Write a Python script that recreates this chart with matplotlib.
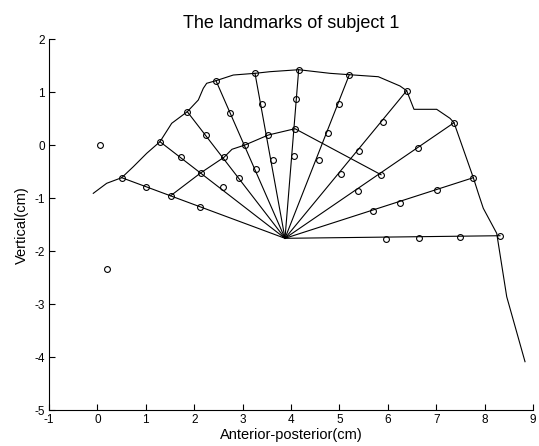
import matplotlib
matplotlib.use("Agg")
import matplotlib.pyplot as plt
import numpy as np

plt.rcParams['font.family'] = ['Liberation Sans', 'DejaVu Sans']
plt.rcParams['axes.unicode_minus'] = False

# Centre of the radial grid
center = (3.876, -1.755)

# Landmarks along each ray, outermost first (x, y in cm)
ray_x = [
    [0.502, 1.004, 1.514, 2.120],
    [1.293, 1.721, 2.140, 2.589],
    [1.857, 2.238, 2.616, 2.932],
    [2.450, 2.740, 3.050, 3.277],
    [3.256, 3.395, 3.519, 3.622],
    [4.159, 4.110, 4.083, 4.056],
    [5.205, 4.986, 4.758, 4.572],
    [6.390, 5.895, 5.405, 5.039],
    [7.368, 6.618, 5.860, 5.390],
    [7.767, 7.017, 6.258, 5.688],
    [8.318, 7.492, 6.645, 5.969],
]
ray_y = [
    [-0.611, -0.781, -0.951, -1.158],
    [0.068, -0.215, -0.517, -0.781],
    [0.634, 0.200, -0.226, -0.611],
    [1.219, 0.615, 0.011, -0.442],
    [1.358, 0.785, 0.200, -0.283],
    [1.426, 0.868, 0.313, -0.208],
    [1.332, 0.785, 0.232, -0.277],
    [1.030, 0.445, -0.102, -0.536],
    [0.426, -0.045, -0.555, -0.857],
    [-0.611, -0.838, -1.083, -1.245],
    [-1.706, -1.725, -1.745, -1.764],
]

# Isolated reference points
extra_x = [0.054, 0.205]
extra_y = [0.011, -2.328]

# Outer contour
contour_x = [-0.085, 0.192, 0.502, 0.742, 1.019, 1.293, 1.535, 1.857, 2.085,
             2.188, 2.258, 2.450, 2.808, 3.256, 3.566, 4.159, 4.806, 5.205,
             5.804, 6.252, 6.390, 6.541, 7.010, 7.285, 7.368, 7.767, 7.870,
             7.973, 8.250, 8.457, 8.835]
contour_y = [-0.906, -0.717, -0.611, -0.404, -0.151, 0.068, 0.415, 0.634, 0.855,
             1.075, 1.170, 1.219, 1.326, 1.358, 1.389, 1.426, 1.358, 1.332,
             1.294, 1.119, 1.030, 0.679, 0.679, 0.509, 0.426, -0.611, -0.906,
             -1.189, -1.660, -2.857, -4.083]

# Inner contour
inner_x = [1.514, 2.140, 2.616, 2.781, 3.050, 3.531, 4.083, 5.860]
inner_y = [-0.951, -0.517, -0.226, -0.075, 0.006, 0.194, 0.313, -0.555]

fig = plt.figure(figsize=(5.39, 4.46), dpi=100)
ax = fig.add_axes([49 / 539, 1 - 410.3 / 446, 484 / 539, 371 / 446])

lw = 0.8
ax.plot(contour_x, contour_y, color='black', lw=lw)
ax.plot(inner_x, inner_y, color='black', lw=lw)
for xs, ys in zip(ray_x, ray_y):
    ax.plot([center[0], xs[0]], [center[1], ys[0]], color='black', lw=lw)

all_x = np.concatenate([np.ravel(ray_x), extra_x])
all_y = np.concatenate([np.ravel(ray_y), extra_y])
ax.plot(all_x, all_y, linestyle='none', marker='o', markersize=4.2,
        markerfacecolor='none', markeredgecolor='black', markeredgewidth=0.8)

ax.set_xlim(-1, 9)
ax.set_ylim(-5, 2)
ax.set_xticks(range(-1, 10))
ax.set_yticks(range(-5, 3))
ax.tick_params(direction='in', length=4, width=0.8, labelsize=8.5, pad=3)
for side in ('top', 'right'):
    ax.spines[side].set_visible(False)
for side in ('left', 'bottom'):
    ax.spines[side].set_linewidth(0.8)

ax.set_title('The landmarks of subject 1', fontsize=13, pad=8)
ax.set_xlabel('Anterior-posterior(cm)', fontsize=10.5, labelpad=1)
ax.set_ylabel('Vertical(cm)', fontsize=10.5, labelpad=4)

fig.savefig('out.png', dpi=100)
